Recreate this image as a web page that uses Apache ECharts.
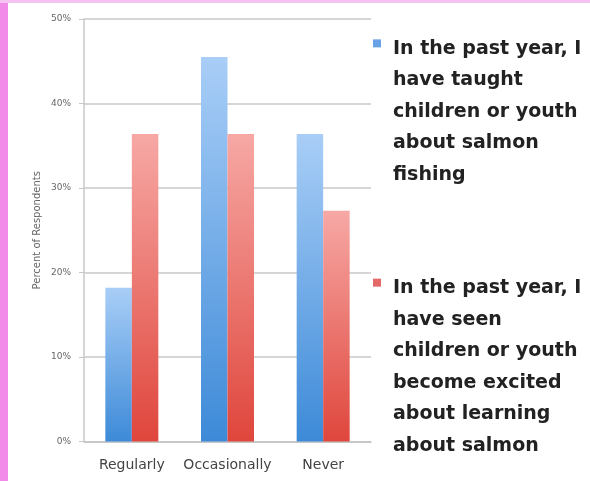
<!DOCTYPE html>
<html><head><meta charset="utf-8">
<script src="https://cdn.jsdelivr.net/npm/echarts@6/dist/echarts.min.js"></script>
<style>html,body{margin:0;padding:0;background:#fff}#c{width:590px;height:481px}</style>
</head><body><div id="c"></div>
<script>
const categories = ['Regularly', 'Occasionally', 'Never'];
const taughtValues = [18.2, 45.5, 36.4];
const excitedValues = [36.4, 36.4, 27.3];
const seriesNames = [
  'In the past year, I\nhave taught\nchildren or youth\nabout salmon\nfishing',
  'In the past year, I\nhave seen\nchildren or youth\nbecome excited\nabout learning\nabout salmon'
];
const yAxisTitle = 'Percent of Respondents';

const LH = 31.5;
const FONT = 'DejaVu Sans';
function grad(top, bottom) {
  return new echarts.graphic.LinearGradient(0, 0, 0, 1, [
    {offset: 0, color: top}, {offset: 1, color: bottom}
  ]);
}
function legendFor(idx, iconCenter, color) {
  const lines = seriesNames[idx].split('\n');
  const n = lines.length, k = n - 1;
  const G = LH + 11 / k;
  const h = k * G + n * LH;
  return {
    data: [{name: seriesNames[idx], itemStyle: {color: color}}],
    left: 373, top: iconCenter - h / 2, padding: 0,
    icon: 'rect', itemWidth: 8, itemHeight: 8, selectedMode: false,
    formatter: function (name) {
      const ls = name.split('\n');
      const gaps = [];
      for (let i = 0; i < ls.length - 1; i++) gaps.push('{g| }');
      return gaps.concat(ls.map(function (l) { return '{t|' + l + '}'; })).join('\n');
    },
    textStyle: {padding: [0, 0, 0, 7], fontFamily: FONT, fontSize: 19,
      rich: {
        g: {lineHeight: G, fontSize: 19, fontFamily: FONT},
        t: {lineHeight: LH, fontSize: 19, fontFamily: FONT, fontWeight: 'bold', color: '#222'}
      }}
  };
}
const chart = echarts.init(document.getElementById('c'));
chart.setOption({
  animation: false,
  backgroundColor: '#fff',
  graphic: [
    {type: 'rect', shape: {x: 0, y: 0, width: 8, height: 481}, style: {fill: '#f28aea'}},
    {type: 'rect', shape: {x: 0, y: 0, width: 590, height: 3}, style: {fill: '#f6c3f2'}}
  ],
  grid: {left: 84, right: 219, top: 19, bottom: 39.5},
  legend: [
    legendFor(0, 51, '#6aa2e6'),
    legendFor(1, 290, '#e46a6a')
  ],
  xAxis: {
    type: 'category', data: categories,
    axisLine: {lineStyle: {color: '#c4c4c4', width: 1.5}},
    axisTick: {length: 4, lineStyle: {color: '#c4c4c4'}},
    axisLabel: {interval: 0, fontFamily: FONT, fontSize: 14, color: '#444', margin: 17}
  },
  yAxis: {
    type: 'value', min: 0, max: 50, interval: 10,
    name: yAxisTitle, nameLocation: 'middle', nameRotate: 90, nameGap: 42,
    nameTextStyle: {fontFamily: FONT, fontSize: 10, color: '#666'},
    axisLine: {show: true, lineStyle: {color: '#c8c8c8', width: 1.5}},
    axisTick: {show: true, length: 5, lineStyle: {color: '#c8c8c8'}},
    axisLabel: {formatter: '{value}%', fontFamily: FONT, fontSize: 9, color: '#666', margin: 13},
    splitLine: {lineStyle: {color: '#c8c8c8', width: 1.5}}
  },
  series: [
    {name: seriesNames[0], type: 'bar', data: taughtValues, barWidth: 26.5, barGap: '0%',
      itemStyle: {color: grad('#a9cef7', '#3d8ad8')}},
    {name: seriesNames[1], type: 'bar', data: excitedValues, barWidth: 26.5, barGap: '0%',
      itemStyle: {color: grad('#f7a8a5', '#df463c')}}
  ]
});
</script></body></html>
